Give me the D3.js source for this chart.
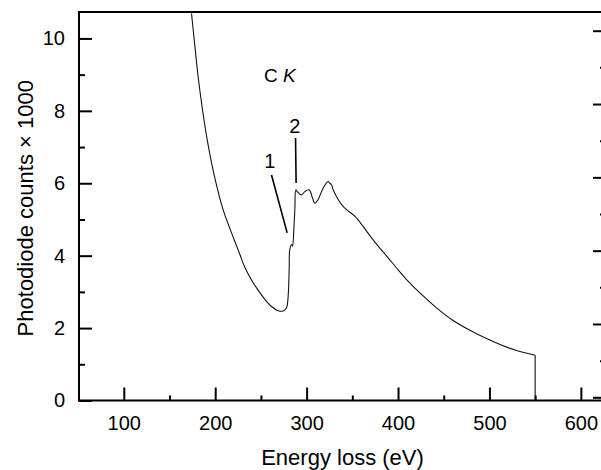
<!DOCTYPE html>
<html>
<head>
<meta charset="utf-8">
<script src="https://cdn.jsdelivr.net/npm/d3@7"></script>
<style>
  html, body { margin: 0; padding: 0; background: #fff; }
  svg { display: block; font-family: "Liberation Sans", Arial, Helvetica, sans-serif; }
</style>
</head>
<body>
<svg id="chart" width="601" height="470"></svg>
<script>
// ---- data ----
const energy = [174.1, 177.4, 181.3, 186.1, 191.9, 199.2, 208.6, 221.4, 226.9, 232.4, 239.7, 246.9, 256.1, 263.3, 268.8, 274.3, 278.0, 279.8, 280.9, 281.6, 283.5, 284.6, 286.0, 287.1, 288.2, 289.6, 294.4, 298.0, 302.7, 306.5, 309.0, 312.6, 318.1, 323.5, 325.4, 327.2, 329.0, 334.5, 339.9, 343.7, 352.7, 361.8, 371.0, 380.1, 389.2, 398.4, 409.3, 423.9, 442.1, 460.3, 478.6, 496.8, 515.0, 529.6, 550, 550];
const counts = [10.69, 9.87, 8.95, 8.03, 7.11, 6.19, 5.27, 4.40, 4.04, 3.68, 3.33, 3.05, 2.74, 2.56, 2.48, 2.47, 2.56, 2.88, 3.62, 4.17, 4.31, 4.26, 4.72, 5.27, 5.82, 5.77, 5.68, 5.77, 5.82, 5.59, 5.45, 5.55, 5.87, 6.05, 6.00, 5.96, 5.82, 5.55, 5.36, 5.27, 5.09, 4.81, 4.49, 4.21, 3.94, 3.66, 3.34, 2.97, 2.56, 2.21, 1.94, 1.71, 1.51, 1.38, 1.25, 0];

const xMajorTicks = [100, 200, 300, 400, 500, 600];
const xMinorTicks = [150, 250, 350, 450, 550];
const yMajorTicks = [0, 2, 4, 6, 8, 10];
const yMinorTicks = [1, 3, 5, 7, 9];

// annotations: [energy, counts] in data units
const peakLabels = ["1", "2"];
const peakLabelPos = [[259.7, 6.43], [287.1, 7.40]];
const peakLineFrom = [[261.6, 6.23], [287.9, 7.25]];
const peakLineTo = [[278.7, 4.63], [288.5, 6.01]];
const edgeLabelPos = [270.7, 8.80];

const xTitle = "Energy loss (eV)";
const yTitle = "Photodiode counts \u00d7 1000";

// ---- layout ----
const svg = d3.select("#chart");
const mLeft = 79, mRight = 606, mTop = 12, mBottom = 400.5;

const x = d3.scaleLinear().domain([51, 627.5]).range([mLeft, mRight]);
const y = d3.scaleLinear().domain([0, 10.73]).range([mBottom, mTop]);
const yR = d3.scaleLinear().domain([0, 10]).range([397.3, 30.7]);

svg.append("rect").attr("width", 601).attr("height", 470).attr("fill", "#fff");

svg.append("defs").append("clipPath").attr("id", "clip")
  .append("rect").attr("x", mLeft).attr("y", mTop).attr("width", mRight - mLeft).attr("height", mBottom - mTop);

const tickFont = 20;

// bottom axis
const gx = svg.append("g").attr("transform", `translate(0,${mBottom})`);
gx.call(d3.axisBottom(x).tickValues(xMajorTicks).tickSizeInner(-13).tickSizeOuter(0).tickPadding(15));
const gxm = svg.append("g").attr("transform", `translate(0,${mBottom})`);
gxm.call(d3.axisBottom(x).tickValues(xMinorTicks).tickSizeInner(-5).tickSizeOuter(0).tickFormat(""));

// left axis
const gy = svg.append("g").attr("transform", `translate(${mLeft},0)`);
gy.call(d3.axisLeft(y).tickValues(yMajorTicks).tickSizeInner(-13).tickSizeOuter(0).tickPadding(14).tickFormat(d3.format("d")));
const gym = svg.append("g").attr("transform", `translate(${mLeft},0)`);
gym.call(d3.axisLeft(y).tickValues(yMinorTicks).tickSizeInner(-6).tickSizeOuter(0).tickFormat(""));

// right axis (ticks only)
const gr = svg.append("g").attr("transform", `translate(${mRight},0)`);
gr.call(d3.axisRight(yR).tickValues(yMajorTicks).tickSizeInner(-13).tickSizeOuter(0).tickFormat(""));
const grm = svg.append("g").attr("transform", `translate(${mRight},0)`);
grm.call(d3.axisRight(yR).tickValues(yMinorTicks).tickSizeInner(-6).tickSizeOuter(0).tickFormat(""));

svg.selectAll(".domain").remove();
svg.selectAll(".tick line").attr("stroke", "#000").attr("stroke-width", 2);
svg.selectAll(".tick text").attr("fill", "#000").style("font-size", tickFont + "px");

// frame
svg.append("rect")
  .attr("x", mLeft).attr("y", mTop).attr("width", mRight - mLeft).attr("height", mBottom - mTop)
  .attr("fill", "none").attr("stroke", "#000").attr("stroke-width", 2);

// spectrum: smooth curve up to the cut-off, then the straight drop to zero
const pts = energy.map((e, i) => [e, counts[i]]);
const n = pts.length;
const gCurve = svg.append("g").attr("clip-path", "url(#clip)");
gCurve.append("path")
  .datum(pts.slice(0, n - 1))
  .attr("fill", "none")
  .attr("stroke", "#111")
  .attr("stroke-width", 1.1)
  .attr("stroke-linejoin", "round")
  .attr("d", d3.line().curve(d3.curveCatmullRom.alpha(0.5)).x(d => x(d[0])).y(d => y(d[1])));
gCurve.append("path")
  .datum(pts.slice(n - 2))
  .attr("fill", "none")
  .attr("stroke", "#111")
  .attr("stroke-width", 1.1)
  .attr("d", d3.line().x(d => x(d[0])).y(d => y(d[1])));

// annotations
peakLabels.forEach((t, i) => {
  svg.append("text")
    .attr("x", x(peakLabelPos[i][0])).attr("y", y(peakLabelPos[i][1]))
    .attr("text-anchor", "middle").style("font-size", "20px").attr("fill", "#000")
    .text(t);
  svg.append("line")
    .attr("x1", x(peakLineFrom[i][0])).attr("y1", y(peakLineFrom[i][1]))
    .attr("x2", x(peakLineTo[i][0])).attr("y2", y(peakLineTo[i][1]))
    .attr("stroke", "#000").attr("stroke-width", 1.6);
});

const ck = svg.append("text")
  .attr("x", x(edgeLabelPos[0])).attr("y", y(edgeLabelPos[1]))
  .attr("text-anchor", "middle").style("font-size", "19px").attr("fill", "#000");
ck.append("tspan").text("C ");
ck.append("tspan").attr("font-style", "italic").text("K");

// axis titles
svg.append("text")
  .attr("x", (mLeft + mRight) / 2).attr("y", 465)
  .attr("text-anchor", "middle").style("font-size", "22px").attr("fill", "#000")
  .text(xTitle);

svg.append("text")
  .attr("transform", `translate(33,${(mTop + mBottom) / 2 + 2}) rotate(-90)`)
  .attr("text-anchor", "middle").style("font-size", "22px").attr("fill", "#000")
  .text(yTitle);
</script>
</body>
</html>
